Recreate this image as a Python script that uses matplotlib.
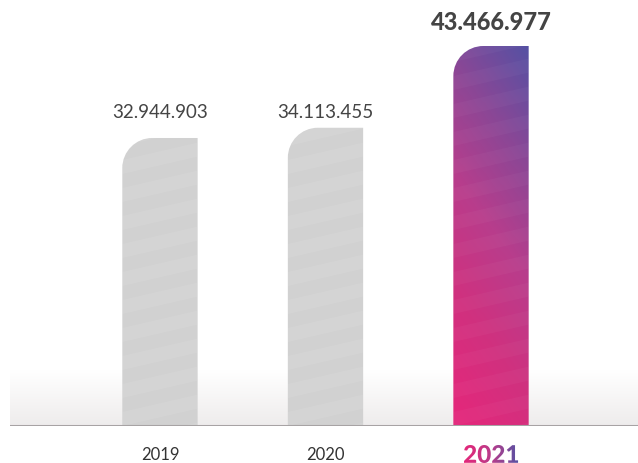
import numpy as np
import matplotlib
matplotlib.use("Agg")
import matplotlib.pyplot as plt
from matplotlib.path import Path
from matplotlib.patches import PathPatch, Polygon
from matplotlib.textpath import TextPath
from matplotlib.font_manager import FontProperties
from matplotlib.colors import LinearSegmentedColormap
from matplotlib import transforms

# ==== data ====
years = ["2019", "2020", "2021"]
values = [32944903, 34113455, 43466977]
labels = ["32.944.903", "34.113.455", "43.466.977"]

# ==== style ====
W, H, DPI = 638, 464, 100
BAR_W = 0.455
RADIUS_PX = 30
GRAY = "#d1d1d1"
GRAD = LinearSegmentedColormap.from_list(
    "g", ["#e3287b", "#d0317f", "#b83d8c", "#8a4796", "#5651a3"])
plt.rcParams["font.family"] = ["Lato", "DejaVu Sans"]

fig = plt.figure(figsize=(W / DPI, H / DPI), dpi=DPI)
ax_h = 427 / H
ax = fig.add_axes([10 / W, 1 - ax_h, 628 / W, ax_h])
XL = (-0.906, 2.888)
ymax = values[-1] * 427 / 380
ax.axis("off")

# pixel scales (data units per pixel)
ux = (XL[1] - XL[0]) / 628
uy = ymax / 427

# soft floor band
band = np.linspace(0, 1, 64).reshape(-1, 1)
floor = LinearSegmentedColormap.from_list("f", ["#eeecec", "#ffffff"])
ax.imshow(band, cmap=floor, aspect="auto", origin="lower",
          extent=(XL[0], XL[1], 0, 56 * uy), zorder=0)
ax.axhline(0, color="#a7a3a4", lw=2.2, zorder=5)


def bar_path(x0, x1, top):
    rx, ry = RADIUS_PX * ux, RADIUS_PX * uy
    k = 0.5523
    verts = [(x0, 0), (x0, top - ry),
             (x0, top - ry + k * ry), (x0 + rx - k * rx, top), (x0 + rx, top),
             (x1, top), (x1, 0), (x0, 0)]
    codes = [Path.MOVETO, Path.LINETO, Path.CURVE4, Path.CURVE4, Path.CURVE4,
             Path.LINETO, Path.LINETO, Path.CLOSEPOLY]
    return Path(verts, codes)


for i, (yr, v, lab) in enumerate(zip(years, values, labels)):
    x0, x1 = i - BAR_W / 2, i + BAR_W / 2
    patch = PathPatch(bar_path(x0, x1, v), lw=0, zorder=2,
                      facecolor=GRAY if i < 2 else "none")
    ax.add_patch(patch)
    if i == 2:
        gy, gx = np.mgrid[0:1:200j, 0:1:60j]
        t = np.clip(0.82 * gy + 0.22 * gx - 0.04, 0, 1)
        im = ax.imshow(t, cmap=GRAD, aspect="auto", origin="lower",
                       extent=(x0, x1, 0, v), zorder=2)
        im.set_clip_path(patch)
    # diagonal stripes
    slope = np.tan(np.radians(13)) * uy / ux
    period = 28 * uy
    n = int(v / period) + 4
    for s in range(-3, n):
        yb = s * period
        pts = [(x0, yb), (x1, yb + slope * (x1 - x0)),
               (x1, yb + slope * (x1 - x0) + period / 2), (x0, yb + period / 2)]
        st = Polygon(pts, closed=True, lw=0, zorder=3,
                     facecolor="white", alpha=0.08 if i < 2 else 0.03)
        ax.add_patch(st)
        st.set_clip_path(patch)

    if i < 2:
        ax.text(i, ymax - 113 * uy, lab, ha="center", va="center",
                fontsize=13.5, color="#444444")
        ax.text(i, -28 * uy, yr, ha="center", va="center",
                fontsize=12, color="#333333")
    else:
        ax.text(i, ymax - 23 * uy, lab, ha="center",
                va="center", fontsize=17, color="#444444", fontweight="black")

ax.set_xlim(*XL)
ax.set_ylim(0, ymax)

# gradient "2021" year label, drawn on a full-figure overlay (pixel coords)
ov = fig.add_axes([0, 0, 1, 1], zorder=10)
ov.set_xlim(0, W)
ov.set_ylim(0, H)
ov.axis("off")
ov.patch.set_alpha(0)
fp = FontProperties(family="Lato", weight="black")
tp = TextPath((0, 0), years[2], size=17.5, prop=fp)
ext = tp.get_extents()
cx, cy = ov.transData.inverted().transform(ax.transData.transform((2, -28 * uy)))
s = DPI / 72
tr = (transforms.Affine2D()
      .translate(-(ext.x0 + ext.width / 2), -(ext.y0 + ext.height / 2))
      .scale(s).translate(cx, cy))
tpatch = PathPatch(tr.transform_path(tp), lw=0, facecolor="none")
ov.add_patch(tpatch)
grad_h = np.linspace(0.05, 1, 50).reshape(1, -1)
tim = ov.imshow(grad_h, cmap=GRAD, aspect="auto", origin="lower",
                extent=(cx - ext.width * s / 2, cx + ext.width * s / 2,
                        cy - ext.height * s / 2, cy + ext.height * s / 2))
tim.set_clip_path(tpatch)
ov.set_xlim(0, W)
ov.set_ylim(0, H)

fig.savefig("out.png", dpi=DPI, facecolor="white")
